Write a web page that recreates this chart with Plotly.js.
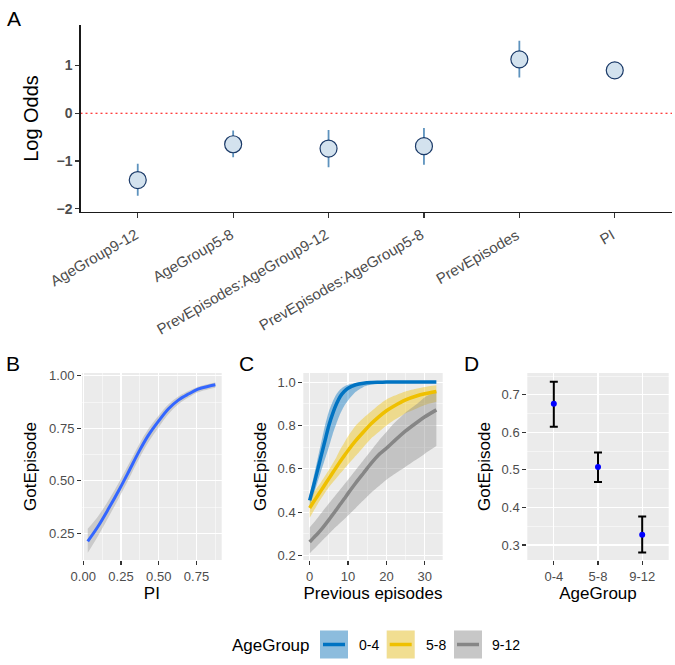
<!DOCTYPE html>
<html>
<head>
<meta charset="utf-8">
<script src="https://cdn.plot.ly/plotly-3.0.1.min.js"></script>
<style>html,body{margin:0;padding:0;background:#fff;}#chart{width:675px;height:665px;}</style>
</head>
<body>
<div id="chart"></div>
<script>
// ---------- Panel A: coefficients (log odds) ----------
const coefNames = ['AgeGroup9-12','AgeGroup5-8','PrevEpisodes:AgeGroup9-12','PrevEpisodes:AgeGroup5-8','PrevEpisodes','PI'];
const coefEst  = [-1.40, -0.65, -0.74, -0.69, 1.13, 0.90];
const coefLow  = [-1.73, -0.92, -1.13, -1.08, 0.75, 0.84];
const coefHigh = [-1.06, -0.36, -0.35, -0.31, 1.52, 0.96];

// ---------- Panel B: GotEpisode vs PI ----------
const piX     = [0.03, 0.10, 0.17, 0.24, 0.30, 0.37, 0.43, 0.50, 0.565, 0.63, 0.70, 0.76, 0.83, 0.875];
const piFit   = [0.212, 0.285, 0.370, 0.460, 0.542, 0.640, 0.715, 0.785, 0.843, 0.884, 0.914, 0.936, 0.950, 0.957];
const piLow   = [0.157, 0.240, 0.330, 0.423, 0.506, 0.605, 0.682, 0.755, 0.818, 0.864, 0.897, 0.921, 0.936, 0.943];
const piHigh  = [0.272, 0.333, 0.410, 0.497, 0.577, 0.673, 0.745, 0.811, 0.864, 0.901, 0.928, 0.948, 0.961, 0.968];

// ---------- Panel C: GotEpisode vs previous episodes by AgeGroup ----------
const prevEp = [0, 1, 2, 3, 4, 5, 6, 7, 8, 9, 10, 12, 14, 16, 18, 20, 22, 25, 28, 30, 33];
const fit04  = [0.455,0.520,0.590,0.660,0.730,0.800,0.855,0.900,0.935,0.957,0.972,0.988,0.995,0.998,0.999,1.000,1.000,1.000,1.000,1.000,1.000];
const low04  = [0.430,0.480,0.535,0.590,0.645,0.700,0.760,0.810,0.855,0.890,0.915,0.955,0.978,0.989,0.994,0.997,0.998,0.999,1.000,1.000,1.000];
const high04 = [0.480,0.560,0.640,0.720,0.800,0.865,0.910,0.945,0.967,0.980,0.988,0.996,0.999,1.000,1.000,1.000,1.000,1.000,1.000,1.000,1.000];
const fit58  = [0.420,0.447,0.474,0.501,0.528,0.555,0.582,0.609,0.635,0.660,0.685,0.730,0.770,0.808,0.840,0.868,0.890,0.918,0.937,0.946,0.957];
const low58  = [0.375,0.405,0.435,0.463,0.490,0.515,0.537,0.558,0.580,0.600,0.620,0.660,0.700,0.740,0.770,0.800,0.825,0.857,0.880,0.895,0.910];
const high58 = [0.465,0.490,0.515,0.540,0.567,0.595,0.625,0.655,0.690,0.720,0.750,0.800,0.835,0.865,0.895,0.920,0.937,0.957,0.970,0.978,0.986];
const fit912 = [0.263,0.282,0.300,0.320,0.342,0.365,0.389,0.413,0.438,0.462,0.487,0.535,0.580,0.625,0.665,0.695,0.728,0.775,0.815,0.840,0.872];
const low912 = [0.210,0.228,0.246,0.264,0.282,0.300,0.318,0.335,0.352,0.368,0.385,0.420,0.455,0.490,0.520,0.550,0.575,0.610,0.645,0.670,0.705];
const high912= [0.330,0.350,0.372,0.395,0.418,0.440,0.462,0.484,0.506,0.528,0.550,0.595,0.640,0.685,0.730,0.770,0.810,0.860,0.900,0.930,0.960];
const groupNames = ['0-4', '5-8', '9-12'];

// ---------- Panel D: GotEpisode by AgeGroup ----------
const ageGroups = ['0-4', '5-8', '9-12'];
const dFit  = [0.676, 0.508, 0.327];
const dLow  = [0.615, 0.468, 0.280];
const dHigh = [0.735, 0.546, 0.376];

// ---------- styling ----------
const F = 'Liberation Sans, Arial, Helvetica, sans-serif';
const W = 675, H = 665;
const px = x => x / W;
const py = y => 1 - y / H;
const lineCols = ['#0073C2', '#EFC000', '#868686'];
const fillCols = ['rgba(0,115,194,0.42)', 'rgba(239,192,0,0.4)', 'rgba(134,134,134,0.4)'];

const traces = [];

// Panel A
traces.push({
  x: coefNames, y: coefEst, xaxis: 'x', yaxis: 'y', type: 'scatter', mode: 'markers',
  marker: {size: 17, color: '#D3E2EE', line: {color: '#1B3A68', width: 1.2}},
  error_y: {type: 'data', symmetric: false,
    array: coefHigh.map((h, i) => h - coefEst[i]),
    arrayminus: coefLow.map((l, i) => coefEst[i] - l),
    color: '#5E93BE', thickness: 1.8, width: 0},
  showlegend: false, hoverinfo: 'x+y'
});

// Panel B
traces.push({x: piX, y: piLow, xaxis: 'x2', yaxis: 'y2', mode: 'lines', line: {width: 0, shape: 'spline'}, showlegend: false, hoverinfo: 'skip'});
traces.push({x: piX, y: piHigh, xaxis: 'x2', yaxis: 'y2', mode: 'lines', line: {width: 0, shape: 'spline'}, fill: 'tonexty', fillcolor: 'rgba(153,153,153,0.4)', showlegend: false, hoverinfo: 'skip'});
traces.push({x: piX, y: piFit, xaxis: 'x2', yaxis: 'y2', mode: 'lines', line: {color: '#3366FF', width: 3, shape: 'spline'}, showlegend: false});

// Panel C
const cLow = [low04, low58, low912], cHigh = [high04, high58, high912], cFit = [fit04, fit58, fit912];
for (let g = 0; g < 3; g++) {
  traces.push({x: prevEp, y: cLow[g], xaxis: 'x3', yaxis: 'y3', mode: 'lines', line: {width: 0, shape: 'spline', smoothing: 0.6}, showlegend: false, hoverinfo: 'skip'});
  traces.push({x: prevEp, y: cHigh[g], xaxis: 'x3', yaxis: 'y3', mode: 'lines', line: {width: 0, shape: 'spline', smoothing: 0.6}, fill: 'tonexty', fillcolor: fillCols[g], showlegend: false, hoverinfo: 'skip'});
}
for (let g = 0; g < 3; g++) {
  traces.push({x: prevEp, y: cFit[g], xaxis: 'x3', yaxis: 'y3', mode: 'lines', name: groupNames[g], line: {color: lineCols[g], width: 3.5, shape: 'spline', smoothing: 0.6}, showlegend: false});
}

// Panel D
traces.push({
  x: ageGroups, y: dFit, xaxis: 'x4', yaxis: 'y4', type: 'scatter', mode: 'markers',
  marker: {size: 6, color: '#0000FF'},
  error_y: {type: 'data', symmetric: false,
    array: dHigh.map((h, i) => h - dFit[i]),
    arrayminus: dLow.map((l, i) => dFit[i] - l),
    color: '#000000', thickness: 2, width: 4},
  showlegend: false
});

// axes helpers
const tickStyle = {ticks: 'outside', ticklen: 4, tickwidth: 1.1, tickcolor: '#333333',
  tickfont: {family: F, size: 13, color: '#4D4D4D'}};
function ggAxis(extra) {
  return Object.assign({showgrid: true, gridcolor: '#FFFFFF', gridwidth: 1.1, zeroline: false, showline: false}, tickStyle, extra);
}
const titleFont = {family: F, size: 17, color: '#000000'};

const panelY = [py(560), py(373)];

const layout = {
  width: W, height: H,
  margin: {l: 0, r: 0, t: 0, b: 0},
  paper_bgcolor: '#FFFFFF', plot_bgcolor: 'rgba(0,0,0,0)',
  font: {family: F},
  showlegend: false,
  // Panel A
  xaxis: {domain: [px(80.5), px(672)], anchor: 'y', type: 'category', range: [-0.6, 5.6],
    showline: true, linecolor: '#1A1A1A', linewidth: 1.2, showgrid: false, zeroline: false,
    ticks: 'outside', ticklen: 4.5, tickwidth: 1.1, tickcolor: '#333333', showticklabels: false},
  yaxis: {domain: [py(212), py(25)], anchor: 'x', range: [-2.07, 1.85], tickvals: [-2, -1, 0, 1],
    showline: true, linecolor: '#1A1A1A', linewidth: 1.2, showgrid: false, zeroline: false,
    ticks: 'outside', ticklen: 4, tickwidth: 1.1, tickcolor: '#333333',
    tickfont: {family: F, size: 14, color: '#4D4D4D', weight: 'bold'},
    title: {text: 'Log Odds', font: {family: F, size: 20, color: '#000000'}, standoff: 12}},
  // Panel B
  xaxis2: ggAxis({domain: [px(82), px(221.7)], anchor: 'y2', range: [-0.008, 0.917], tick0: 0, dtick: 0.25, tickformat: '.2f',
    minor: {dtick: 0.125, showgrid: true, gridcolor: '#FFFFFF', gridwidth: 0.5},
    title: {text: 'PI', font: titleFont, standoff: 4}}),
  yaxis2: ggAxis({domain: panelY, anchor: 'x2', range: [0.123, 1.013], tick0: 0, dtick: 0.25, tickformat: '.2f',
    minor: {dtick: 0.125, showgrid: true, gridcolor: '#FFFFFF', gridwidth: 0.5},
    title: {text: 'GotEpisode', font: titleFont, standoff: 8}}),
  // Panel C
  xaxis3: ggAxis({domain: [px(303.3), px(442.7)], anchor: 'y3', range: [-1.65, 34.65], tick0: 0, dtick: 10,
    minor: {dtick: 5, showgrid: true, gridcolor: '#FFFFFF', gridwidth: 0.5},
    title: {text: 'Previous episodes', font: titleFont, standoff: 4}}),
  yaxis3: ggAxis({domain: panelY, anchor: 'x3', range: [0.18, 1.042], tick0: 0, dtick: 0.2, tickformat: '.1f',
    minor: {dtick: 0.1, showgrid: true, gridcolor: '#FFFFFF', gridwidth: 0.5},
    title: {text: 'GotEpisode', font: titleFont, standoff: 6}}),
  // Panel D
  xaxis4: ggAxis({domain: [px(527.3), px(668.7)], anchor: 'y4', type: 'category', range: [-0.6, 2.6],
    title: {text: 'AgeGroup', font: titleFont, standoff: 4}}),
  yaxis4: ggAxis({domain: panelY, anchor: 'x4', range: [0.26, 0.758], tick0: 0, dtick: 0.1, tickformat: '.1f',
    minor: {dtick: 0.05, showgrid: true, gridcolor: '#FFFFFF', gridwidth: 0.5},
    title: {text: 'GotEpisode', font: titleFont, standoff: 6}}),
  shapes: [],
  annotations: []
};

// rotated category labels for panel A (30 degrees, right/top justified at each tick)
coefNames.forEach(name => {
  layout.annotations.push({text: name, xref: 'x', yref: 'paper', x: name, y: py(223),
    xanchor: 'right', yanchor: 'top', xshift: 5.5, textangle: -30, showarrow: false,
    font: {family: F, size: 15, color: '#4D4D4D'}});
});

// panel backgrounds (ggplot grey theme)
['2', '3', '4'].forEach(k => {
  layout.shapes.push({type: 'rect', xref: 'x' + k + ' domain', yref: 'y' + k + ' domain', x0: 0, x1: 1, y0: 0, y1: 1,
    fillcolor: '#EBEBEB', line: {width: 0}, layer: 'below'});
});
// dotted zero reference line in panel A
layout.shapes.push({type: 'line', xref: 'x domain', yref: 'y', x0: 0, x1: 1, y0: 0, y1: 0,
  line: {color: '#FF0000', width: 1.2, dash: '2px,3px'}, layer: 'below'});

// panel letters
[['A', 14, 18], ['B', 13, 363], ['C', 246.7, 363], ['D', 471.7, 363]].forEach(([t, x, y]) => {
  layout.annotations.push({text: t, xref: 'paper', yref: 'paper', x: px(x), y: py(y), xanchor: 'center', yanchor: 'middle',
    showarrow: false, font: {family: F, size: 21, color: '#000000'}});
});

// legend for panel C (drawn at bottom centre)
layout.annotations.push({text: 'AgeGroup', xref: 'paper', yref: 'paper', x: px(230), y: py(645), xanchor: 'left', yanchor: 'middle',
  showarrow: false, font: {family: F, size: 17, color: '#000000'}});
const keyX = [320, 386.7, 454], labX = [357, 423.5, 490];
for (let g = 0; g < 3; g++) {
  layout.shapes.push({type: 'rect', xref: 'paper', yref: 'paper', x0: px(keyX[g]), x1: px(keyX[g] + 28), y0: py(658.5), y1: py(630.5),
    fillcolor: '#F2F2F2', line: {width: 0}});
  layout.shapes.push({type: 'rect', xref: 'paper', yref: 'paper', x0: px(keyX[g]), x1: px(keyX[g] + 28), y0: py(658.5), y1: py(630.5),
    fillcolor: fillCols[g], line: {width: 0}});
  layout.shapes.push({type: 'line', xref: 'paper', yref: 'paper', x0: px(keyX[g] + 3), x1: px(keyX[g] + 25), y0: py(644.5), y1: py(644.5),
    line: {color: lineCols[g], width: 3.5}});
  layout.annotations.push({text: groupNames[g], xref: 'paper', yref: 'paper', x: px(labX[g]), y: py(645), xanchor: 'left', yanchor: 'middle',
    showarrow: false, font: {family: F, size: 14, color: '#000000'}});
}

Plotly.newPlot('chart', traces, layout, {displayModeBar: false, staticPlot: true});
</script>
</body>
</html>
